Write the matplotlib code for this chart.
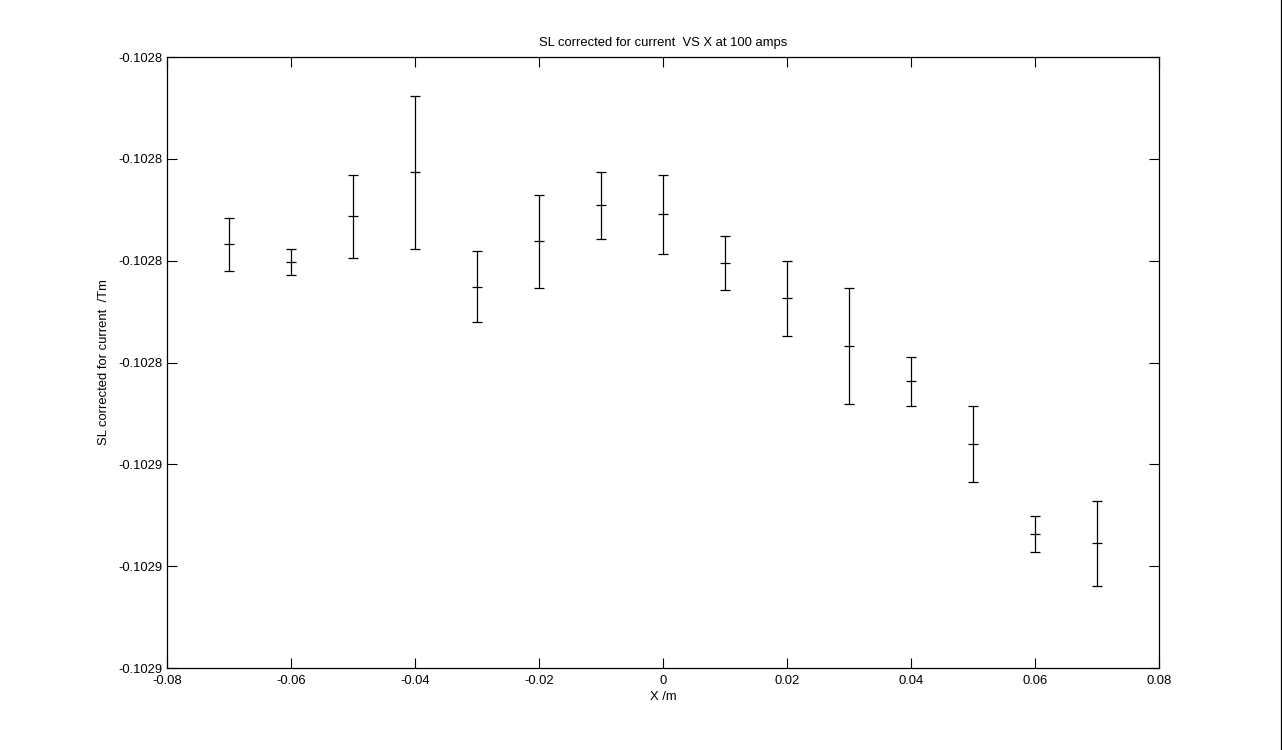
import matplotlib
matplotlib.use("Agg")
import matplotlib.pyplot as plt
from matplotlib.ticker import FormatStrFormatter, FuncFormatter
from matplotlib.lines import Line2D
import numpy as np

# Data
x_pos = [-0.07, -0.06, -0.05, -0.04, -0.03, -0.02, -0.01, 0.0,
         0.01, 0.02, 0.03, 0.04, 0.05, 0.06, 0.07]
sl_values = [-0.1028168, -0.1028203, -0.1028113, -0.1028026, -0.1028251,
             -0.1028162, -0.1028091, -0.1028109, -0.1028205, -0.1028274,
             -0.1028367, -0.1028437, -0.1028561, -0.1028737, -0.1028755]
sl_errors = [5.20e-6, 2.55e-6, 8.21e-6, 1.502e-5, 6.93e-6,
             9.13e-6, 6.58e-6, 7.76e-6, 5.26e-6, 7.37e-6,
             1.139e-5, 4.87e-6, 7.46e-6, 3.50e-6, 8.31e-6]

x_ticks = [-0.08, -0.06, -0.04, -0.02, 0.0, 0.02, 0.04, 0.06, 0.08]
y_ticks = [-0.10290, -0.10288, -0.10286, -0.10284, -0.10282, -0.10280, -0.10278]

title = "SL corrected for current  VS X at 100 amps"
xlabel = "X /m"
ylabel = "SL corrected for current  /Tm"

plt.rcParams['font.family'] = ['Liberation Sans', 'DejaVu Sans']
FS = 9.4

W, H = 1282, 750
fig = plt.figure(figsize=(W / 100, H / 100), dpi=100)
fig.patch.set_facecolor('white')

left, right, top, bottom = 167, 1159, 57, 668
ax = fig.add_axes([left / W, 1 - bottom / H, (right - left) / W, (bottom - top) / H])

ax.errorbar(x_pos, sl_values, yerr=sl_errors, fmt='_', color='black',
            ecolor='black', elinewidth=0.9, capsize=3.25, capthick=0.9,
            markersize=6.5, markeredgewidth=0.9, linestyle='none')

ax.set_xlim(-0.08, 0.08)
ax.set_ylim(-0.10290, -0.10278)
ax.set_xticks(x_ticks)
ax.set_yticks(y_ticks)
ax.xaxis.set_major_formatter(FuncFormatter(lambda v, p: f"{v:g}" if abs(v) > 1e-12 else "0"))
ax.yaxis.set_major_formatter(FormatStrFormatter('%.4f'))
ax.minorticks_off()
ax.tick_params(axis='both', which='major', direction='in', length=7,
               width=0.8, labelsize=FS, top=True, right=True, pad=3,
               colors='black')
ax.tick_params(axis='x', pad=5)
for s in ax.spines.values():
    s.set_linewidth(0.9)
    s.set_color('black')

ax.set_title(title, fontsize=FS, pad=8)
ax.set_xlabel(xlabel, fontsize=FS, labelpad=3)
ax.set_ylabel(ylabel, fontsize=FS, labelpad=6)

# thin vertical border line at the right edge of the image
fig.add_artist(Line2D([1280.5 / W, 1280.5 / W], [0, 1], transform=fig.transFigure,
                      color='black', linewidth=0.9))

fig.savefig('out.png', dpi=100, facecolor='white')
